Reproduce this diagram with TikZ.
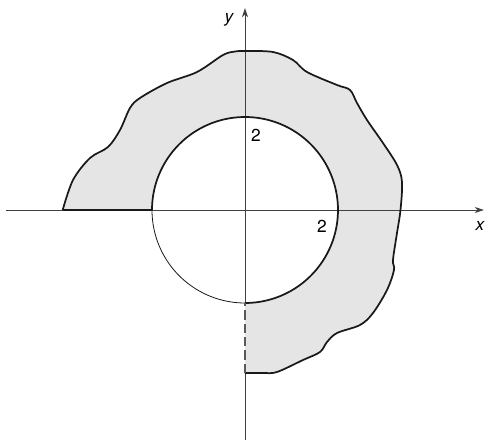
\documentclass[tikz,border=0pt]{standalone}
\usepackage{fontspec}
\setmainfont{TeX Gyre Heros}
\usetikzlibrary{arrows.meta}
\begin{document}
\begin{tikzpicture}[x=0.75pt,y=-0.75pt,
  axis/.style={line width=0.6pt,draw=black!75},
  bound/.style={line width=1.3pt,draw=black!90},
  thinarc/.style={line width=0.6pt,draw=black!90},
  cutline/.style={line width=1.3pt,draw=black!65,dash pattern=on 7pt off 3pt},
  region/.style={fill=black!10},
  lbl/.style={font=\fontsize{13}{15}\selectfont,inner sep=0pt},
  tip/.style={-{Stealth[length=7pt,width=4.5pt]}}]
\useasboundingbox (0,0) rectangle (487,440);
% named points
\coordinate (O) at (245,210);
\coordinate (A) at (62.7,210);
\coordinate (B) at (152,210);
\coordinate (C) at (245,303);
\coordinate (D) at (245,373);
\coordinate (xl) at (6,210);
\coordinate (xr) at (484,210);
\coordinate (yb) at (245,440);
\coordinate (yt) at (245,8);
% shaded region
\path[region] plot[smooth,tension=0.55] coordinates {
 (62.7,210) (73,180) (90,158) (108,147) (120,130) (130,108) (140,98)
 (167,83) (197,72) (223,55) (235,51.5) (245,51) (273,52) (293,60) (307,72)
 (337,85) (350,90) (357,103) (367,120) (383,143) (397,165) (402,182)
 (400.5,210) (397,233) (393,260) (394,270) (387,290) (373,313) (360,325)
 (337,333) (327,342) (320,352) (303,360) (277,372) (263,373) (245,373)}
 -- (O) -- cycle;
\fill[white] (O) circle[radius=93];
% axes
\draw[axis,tip] (xl) -- (xr);
\draw[axis] (yb) -- (D);
\draw[axis,tip] (C) -- (yt);
% boundaries
\draw[bound] plot[smooth,tension=0.55] coordinates {
 (62.7,210) (73,180) (90,158) (108,147) (120,130) (130,108) (140,98)
 (167,83) (197,72) (223,55) (235,51.5) (245,51) (273,52) (293,60) (307,72)
 (337,85) (350,90) (357,103) (367,120) (383,143) (397,165) (402,182)
 (400.5,210) (397,233) (393,260) (394,270) (387,290) (373,313) (360,325)
 (337,333) (327,342) (320,352) (303,360) (277,372) (263,373) (245,373)};
\draw[bound] plot[domain=-90:180,samples=120] ({245+93*cos(\x)},{210-93*sin(\x)});
\draw[thinarc] plot[domain=180:270,samples=60] ({245+93*cos(\x)},{210-93*sin(\x)});
\draw[bound] (A) -- (B);
\draw[cutline] (D) -- (C);
% labels
\node[lbl] (ly) at (229,20) {\itshape y};
\node[lbl] (lx) at (480,226) {\itshape x};
\node[lbl] (l2a) at (256,135) {2};
\node[lbl] (l2b) at (322,226) {2};
\end{tikzpicture}
\end{document}
